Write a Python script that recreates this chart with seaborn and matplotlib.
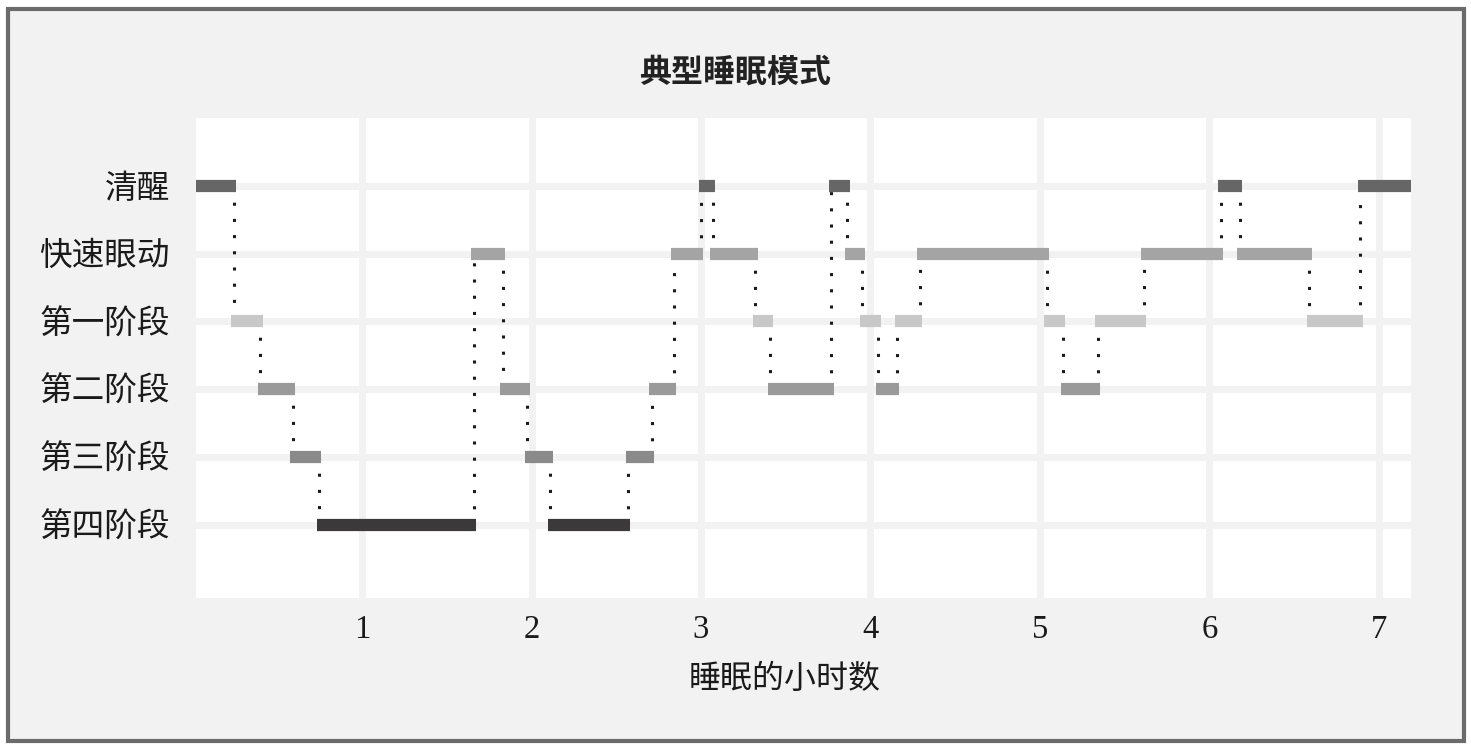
import matplotlib
matplotlib.use("Agg")
import matplotlib.pyplot as plt
import matplotlib.patches as mpatches
import seaborn as sns
import pandas as pd

# ---- data ----
stage_labels = ['第四阶段', '第三阶段', '第二阶段', '第一阶段', '快速眼动', '清醒']
stage_colors = ['#3b393a', '#8a8a8a', '#9a9a9a', '#c8c8c8', '#a4a4a4', '#666666']

segment_stages = ['清醒', '第一阶段', '第二阶段', '第三阶段', '第四阶段',
                  '快速眼动', '第二阶段', '第三阶段', '第四阶段', '第三阶段',
                  '第二阶段', '快速眼动', '清醒', '快速眼动', '第一阶段',
                  '第二阶段', '清醒', '快速眼动', '第一阶段', '第二阶段',
                  '第一阶段', '快速眼动', '第一阶段', '第二阶段', '第一阶段',
                  '快速眼动', '清醒', '快速眼动', '第一阶段', '清醒']
segment_bounds = [0.02, 0.242, 0.40, 0.59, 0.746, 1.658, 1.83, 1.976, 2.11,
                  2.57, 2.71, 2.84, 3.0, 3.07, 3.32, 3.41, 3.77, 3.864, 3.953,
                  4.047, 4.157, 4.29, 5.04, 5.137, 5.34, 5.613, 6.067, 6.18,
                  6.59, 6.89, 7.19]
x_ticks = [1, 2, 3, 4, 5, 6, 7]

title = '典型睡眠模式'
x_label = '睡眠的小时数'

# ---- style ----
sns.set_theme(style='whitegrid')
plt.rcParams['font.family'] = ['Liberation Serif', 'Noto Sans CJK SC', 'DejaVu Sans']

df = pd.DataFrame({
    'stage': segment_stages,
    'start': segment_bounds[:-1],
    'end': segment_bounds[1:],
})
level = {s: i for i, s in enumerate(stage_labels)}
color = dict(zip(stage_labels, stage_colors))
df['level'] = df['stage'].map(level)

fig = plt.figure(figsize=(14.71, 7.5), dpi=100, facecolor='white')
# framed background
fig.patches.append(mpatches.Rectangle((7.5 / 1471, 9 / 750), (1463.5 - 7.5) / 1471, (741 - 9) / 750,
                                      transform=fig.transFigure, facecolor='#f2f2f2',
                                      edgecolor='#6b6b6b', linewidth=3, zorder=-10))

ax = fig.add_axes([196 / 1471, 1 - 598 / 750, (1411 - 196) / 1471, (598 - 118) / 750])
ax.set_facecolor('white')
for sp in ax.spines.values():
    sp.set_visible(False)
ax.grid(True, color='#f2f2f2', linewidth=5)
ax.set_axisbelow(True)

pad = 0.014
# dotted connectors
for i in range(len(df) - 1):
    x = df.loc[i, 'end']
    y1 = df.loc[i, 'level']
    y2 = df.loc[i + 1, 'level']
    ax.plot([x, x], [y1, y2], color='#1a1a1a', linewidth=2.2,
            dashes=(1, 4.3), dash_capstyle='butt', solid_capstyle='butt', zorder=2)
# stage bars
for _, r in df.iterrows():
    ax.hlines(r['level'], r['start'] - pad, r['end'] + pad, colors=color[r['stage']],
              linewidth=8.8, capstyle='butt', zorder=3)

ax.set_xlim(0.02, 7.19)
ax.set_ylim(-1.08, 6.0)
ax.set_xticks(x_ticks)
ax.set_xticklabels([str(t) for t in x_ticks])
ax.set_yticks(range(len(stage_labels)))
ax.set_yticklabels(stage_labels)
ax.tick_params(axis='both', length=0, labelsize=23.5, colors='#1a1a1a')
ax.tick_params(axis='y', pad=19)
ax.tick_params(axis='x', pad=12)
ax.set_xlabel(x_label, fontsize=23, color='#1a1a1a')
ax.xaxis.set_label_coords((785 - 196) / 1215, -(680 - 598) / 480)
ax.xaxis.label.set_va('center')

fig.text(0.5, 1 - 73 / 750, title, ha='center', va='center',
         fontsize=23, fontweight='bold', color='#222222',
         family=['Noto Sans CJK SC', 'DejaVu Sans'])

fig.savefig('out.png', dpi=100, facecolor='white')
